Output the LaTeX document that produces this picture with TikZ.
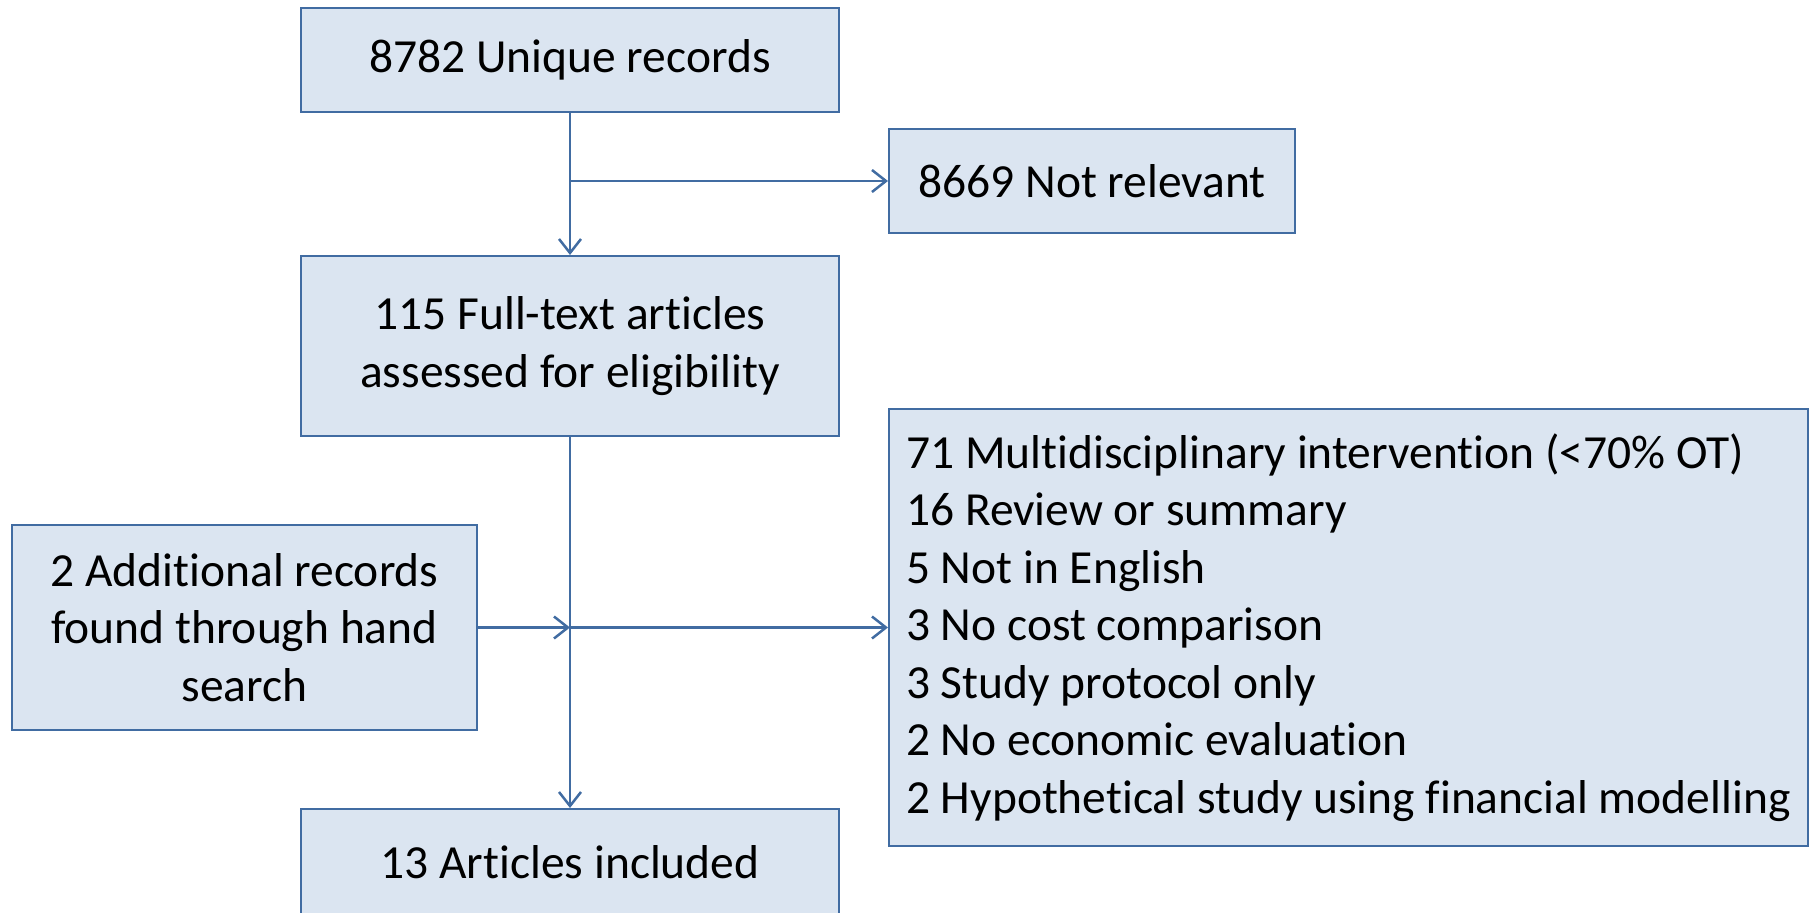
\documentclass[tikz,border=0pt]{standalone}
\usepackage{fontspec}
\setmainfont[Ligatures=NoCommon,Contextuals=NoAlternate,RawFeature={-liga;-clig;-dlig}]{Carlito}
\usetikzlibrary{arrows.meta}
\definecolor{boxfill}{RGB}{219,229,241}
\definecolor{boxline}{RGB}{65,108,162}
\tikzset{
  flowbox/.style={draw=boxline, fill=boxfill, line width=2pt, inner sep=0pt, align=center,
    font=\fontsize{47.5}{57.5}\selectfont},
  conn/.style={draw=boxline, line width=2.5pt, -{Straight Barb[length=14pt,width=22pt,line width=2.5pt]}}
}
\begin{document}
\begin{tikzpicture}[x=1pt,y=-1pt]
\useasboundingbox (0,0) rectangle (1810,913);
\clip (0,0) rectangle (1810,913);
\node[flowbox, minimum width=538pt, minimum height=104pt] (records) at (570,60) {8782 Unique records};
\node[flowbox, minimum width=406pt, minimum height=104pt] (notrel) at (1092,181) {8669 Not relevant};
\node[flowbox, minimum width=538pt, minimum height=180pt] (fulltext) at (570,346) {115 Full-text articles\\assessed for eligibility};
\node[flowbox, minimum width=465pt, minimum height=205pt] (hand) at (244.5,627.5) {2 Additional records\\found through hand\\search};
\node[flowbox, minimum width=919pt, minimum height=437pt, align=left] (excl) at (1348.5,627.5) {71 Multidisciplinary intervention (<70\% OT)\\16 Review or summary\\5 Not in English\\3 No cost comparison\\3 Study protocol only\\2 No economic evaluation\\2 Hypothetical study using financial modelling};
\node[flowbox, minimum width=538pt, minimum height=106pt] (included) at (570,862) {13 Articles included};
\coordinate (branch1) at (records.south |- notrel.west);
\coordinate (join) at (records.south |- hand.east);
\draw[conn] (records.south) -- (fulltext.north);
\draw[conn] (branch1) -- (notrel.west);
\draw[conn] (fulltext.south) -- (included.north);
\draw[conn] (hand.east) -- (join);
\draw[conn] (join) -- (excl.west);
\end{tikzpicture}
\end{document}
